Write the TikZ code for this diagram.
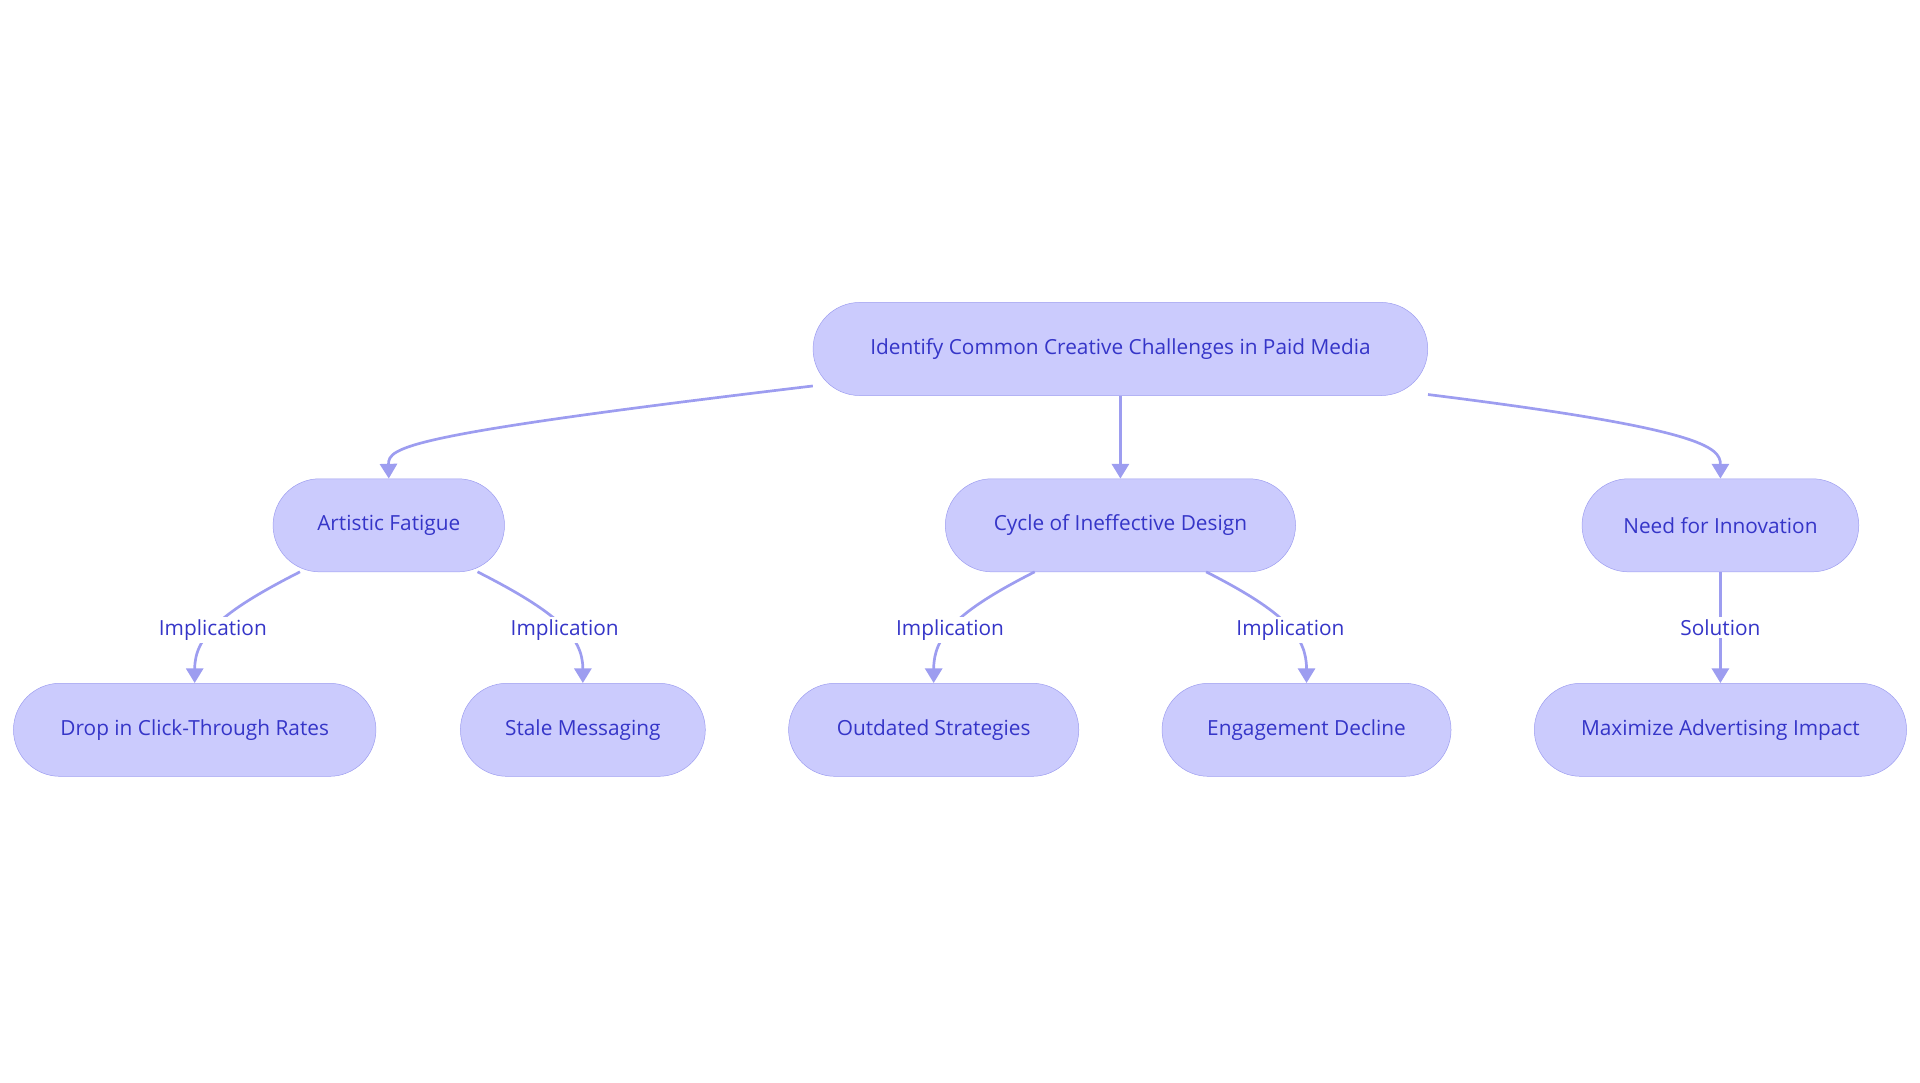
\documentclass[tikz,border=0pt]{standalone}
\usepackage{fontspec}
\setmainfont{Open Sans}
\usetikzlibrary{arrows.meta}
\definecolor{nfill}{HTML}{CBCBFD}
\definecolor{nline}{HTML}{9D9DF0}
\definecolor{ntext}{HTML}{3535C8}
\begin{document}
\begin{tikzpicture}[x=1pt,y=-1pt,
  box/.style={draw=nline,fill=nfill,rounded corners=38pt,minimum height=76pt,text=ntext,font=\fontsize{17}{20}\selectfont,inner xsep=0pt},
  edge/.style={draw=nline,line width=2.2pt,-{Triangle[length=12pt,width=14pt]}},
  lab/.style={fill=white,text=ntext,font=\fontsize{17}{20}\selectfont,inner sep=2pt}]
\useasboundingbox (0,0) rectangle (1568,884);
\node[box,minimum width=502pt] (root) at (915,285) {Identify Common Creative Challenges in Paid Media};
\node[box,minimum width=189pt] (af) at (317.5,429) {Artistic Fatigue};
\node[box,minimum width=286pt] (cy) at (915,429) {Cycle of Ineffective Design};
\node[box,minimum width=226pt] (nf) at (1405,429) {Need for Innovation};
\node[box,minimum width=296pt] (dr) at (159,596) {Drop in Click-Through Rates};
\node[box,minimum width=200pt] (st) at (476,596) {Stale Messaging};
\node[box,minimum width=237pt] (ou) at (762.5,596) {Outdated Strategies};
\node[box,minimum width=236pt] (en) at (1067,596) {Engagement Decline};
\node[box,minimum width=304pt] (mx) at (1405,596) {Maximize Advertising Impact};
\draw[edge] (root.south west)++(0,-8) .. controls (330,355) and (317,365) .. (af.north);
\draw[edge] (root.south) -- (cy.north);
\draw[edge] (root.south east)++(0,-1) .. controls (1390,350) and (1405,365) .. (nf.north);
\draw[edge] (245,467) .. controls (180,500) and (159,520) .. node[lab,pos=0.55]{Implication} (dr.north);
\draw[edge] (390,467) .. controls (455,500) and (476,520) .. node[lab,pos=0.55]{Implication} (st.north);
\draw[edge] (845,467) .. controls (780,500) and (762.5,520) .. node[lab,pos=0.55]{Implication} (ou.north);
\draw[edge] (985,467) .. controls (1050,500) and (1067,520) .. node[lab,pos=0.55]{Implication} (en.north);
\draw[edge] (nf.south) -- node[lab]{Solution} (mx.north);
\end{tikzpicture}
\end{document}
